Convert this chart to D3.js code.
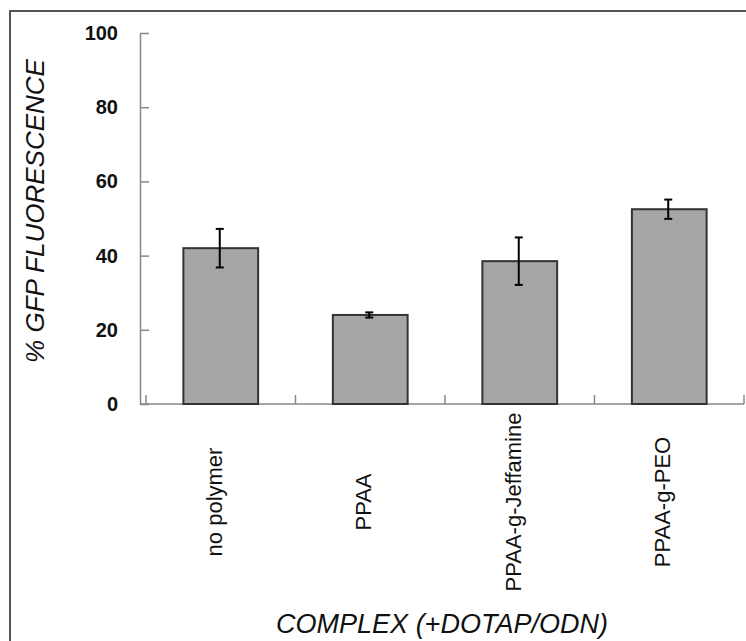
<!DOCTYPE html>
<html>
<head>
<meta charset="utf-8">
<script src="https://cdn.jsdelivr.net/npm/d3@7"></script>
<style>
    body { margin: 0; background: #fff; }
    svg { display: block; font-family: Arial, "Liberation Sans", sans-serif; }
</style>
</head>
<body>
<svg id="chart" width="746" height="641"></svg>
<script>
const categories = ['no polymer', 'PPAA', 'PPAA-g-Jeffamine', 'PPAA-g-PEO'];
const values = [42, 24, 38.5, 52.5];
const errors = [5.2, 0.7, 6.4, 2.6];
const yTicks = [0, 20, 40, 60, 80, 100];

const svg = d3.select('#chart');

// frame round the figure, cut off on the right and bottom like the original
svg.append('rect')
    .attr('x', 10)
    .attr('y', 11)
    .attr('width', 780)
    .attr('height', 680)
    .attr('fill', 'none')
    .attr('stroke', '#555')
    .attr('stroke-width', 2);

const x = d3.scaleBand()
    .domain(categories)
    .range([146, 744])
    .paddingInner(0.5)
    .paddingOuter(0.25);

const y = d3.scaleLinear()
    .domain([0, 100])
    .range([404, 33]);

// y axis, ticks pointing inward
const yAxis = svg.append('g')
    .attr('transform', 'translate(140,0)')
    .call(d3.axisLeft(y).tickValues(yTicks).tickSizeInner(-9).tickSizeOuter(0).tickPadding(22));
yAxis.select('.domain').attr('stroke', '#888').attr('stroke-width', 1.5);
yAxis.selectAll('.tick line').attr('stroke', '#888').attr('stroke-width', 1.5);
yAxis.selectAll('.tick text')
    .attr('font-size', 20)
    .attr('font-weight', 'bold')
    .attr('fill', '#111');

// x axis line and boundary ticks between categories
svg.append('line')
    .attr('x1', 140).attr('x2', 744)
    .attr('y1', y(0)).attr('y2', y(0))
    .attr('stroke', '#888').attr('stroke-width', 1.5);

const bounds = categories.map(c => x(c) - x.step() * 0.25).concat([744]);
svg.selectAll('.xtick')
    .data(bounds)
    .enter()
    .append('line')
    .attr('x1', d => d).attr('x2', d => d)
    .attr('y1', y(0)).attr('y2', y(0) - 9)
    .attr('stroke', '#888').attr('stroke-width', 1.5);

// bars
svg.selectAll('.bar')
    .data(values)
    .enter()
    .append('rect')
    .attr('x', (_, i) => x(categories[i]))
    .attr('y', d => y(d))
    .attr('width', x.bandwidth())
    .attr('height', d => y(0) - y(d))
    .attr('fill', '#a6a6a6')
    .attr('stroke', '#333')
    .attr('stroke-width', 2);

// error bars
const err = svg.selectAll('.err')
    .data(values)
    .enter()
    .append('g')
    .attr('stroke', '#000')
    .attr('stroke-width', 2);
const cx = i => x(categories[i]) + x.bandwidth() / 2 - 1;
err.append('line')
    .attr('x1', (_, i) => cx(i)).attr('x2', (_, i) => cx(i))
    .attr('y1', (d, i) => y(d + errors[i])).attr('y2', (d, i) => y(d - errors[i]));
err.append('line')
    .attr('x1', (_, i) => cx(i) - 4).attr('x2', (_, i) => cx(i) + 4)
    .attr('y1', (d, i) => y(d + errors[i])).attr('y2', (d, i) => y(d + errors[i]));
err.append('line')
    .attr('x1', (_, i) => cx(i) - 4).attr('x2', (_, i) => cx(i) + 4)
    .attr('y1', (d, i) => y(d - errors[i])).attr('y2', (d, i) => y(d - errors[i]));

// category labels, rotated
svg.selectAll('.xlabel')
    .data(categories)
    .enter()
    .append('text')
    .attr('transform', d => `translate(${x(d) + x.bandwidth() / 2 + 1},502) rotate(-90)`)
    .attr('text-anchor', 'middle')
    .attr('font-size', 22)
    .attr('fill', '#111')
    .text(d => d);

// axis titles
svg.append('text')
    .attr('transform', 'translate(44,211) rotate(-90)')
    .attr('text-anchor', 'middle')
    .attr('font-size', 26)
    .attr('font-style', 'italic')
    .attr('fill', '#111')
    .text('% GFP FLUORESCENCE');

svg.append('text')
    .attr('x', 442)
    .attr('y', 633)
    .attr('text-anchor', 'middle')
    .attr('font-size', 27)
    .attr('font-style', 'italic')
    .attr('fill', '#111')
    .text('COMPLEX (+DOTAP/ODN)');
</script>
</body>
</html>
